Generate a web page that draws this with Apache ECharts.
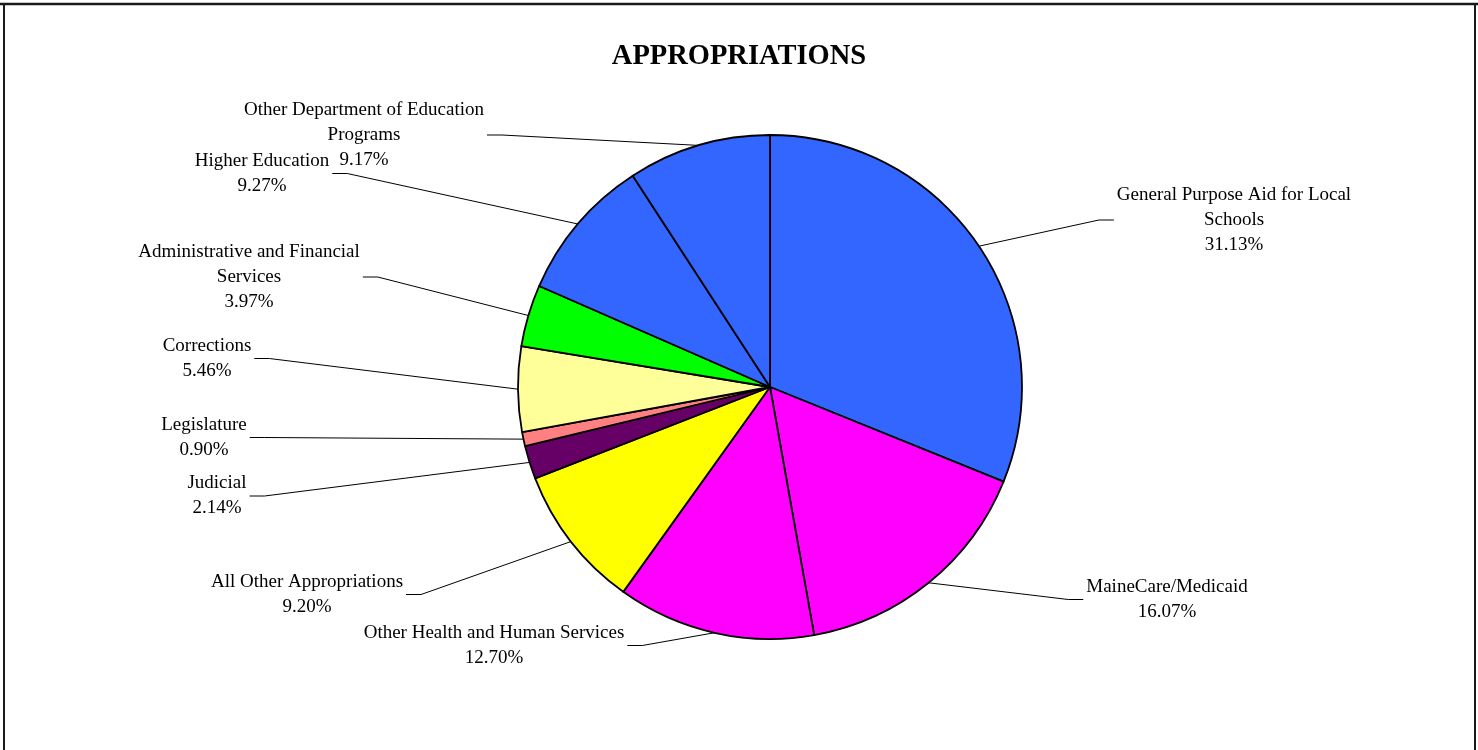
<!DOCTYPE html>
<html>
<head>
<meta charset="utf-8">
<script src="https://cdn.jsdelivr.net/npm/echarts@6/dist/echarts.min.js"></script>
<style>
html,body{margin:0;padding:0;background:#fff;}
#chart{width:1478px;height:750px;}
</style>
</head>
<body>
<div id="chart"></div>
<script>
// ---- data ----
const categories = [
  'General Purpose Aid for Local\nSchools',
  'MaineCare/Medicaid',
  'Other Health and Human Services',
  'All Other Appropriations',
  'Judicial',
  'Legislature',
  'Corrections',
  'Administrative and Financial\nServices',
  'Higher Education',
  'Other Department of Education\nPrograms'
];
const shares = [31.13, 16.07, 12.70, 9.20, 2.14, 0.90, 5.46, 3.97, 9.27, 9.17];
const sliceColors = ['#3366FF', '#FF00FF', '#FF00FF', '#FFFF00', '#660066', '#FF8080', '#FFFF99', '#00FF00', '#3366FF', '#3366FF'];

// ---- label layout (centres of label text blocks) ----
const labelCenters = [
  [1234, 220], [1167, 599.5], [494, 645.5], [307, 594.5], [217, 496],
  [204, 437.5], [207, 358.5], [249, 277], [262, 173.5], [364, 135]
];
const pieCenter = [770, 387];

const chart = echarts.init(document.getElementById('chart'));
chart.setOption({
  animation: false,
  backgroundColor: '#fff',
  title: {
    text: 'APPROPRIATIONS',
    left: 'center',
    top: 37,
    textStyle: { fontFamily: 'Liberation Serif', fontWeight: 'bold', fontSize: 28.5, color: '#000' }
  },
  graphic: [
    { type: 'line', shape: { x1: 0, y1: 4, x2: 1478, y2: 4 }, style: { stroke: '#1a1a1a', lineWidth: 2.5 } },
    { type: 'line', shape: { x1: 4, y1: 4, x2: 4, y2: 760 }, style: { stroke: '#1a1a1a', lineWidth: 2 } },
    { type: 'line', shape: { x1: 1475, y1: 4, x2: 1475, y2: 760 }, style: { stroke: '#1a1a1a', lineWidth: 2 } }
  ],
  series: [{
    type: 'pie',
    center: pieCenter,
    radius: 252,
    startAngle: 90,
    clockwise: true,
    avoidLabelOverlap: false,
    data: categories.map((n, i) => ({ name: n, value: shares[i], itemStyle: { color: sliceColors[i] } })),
    itemStyle: { borderColor: '#000', borderWidth: 1.8 },
    label: {
      show: true,
      position: 'outside',
      fontFamily: 'Liberation Serif',
      fontSize: 19,
      lineHeight: 25,
      color: '#000',
      align: 'center',
      formatter: p => p.name + '\n' + shares[p.dataIndex].toFixed(2) + '%'
    },
    labelLine: { show: true, length: 20, length2: 15, lineStyle: { color: '#000', width: 1 } },
    emphasis: { disabled: true },
    labelLayout: function (params) {
      const i = params.dataIndex;
      const c = labelCenters[i];
      const w = params.labelRect.width;
      const right = c[0] > pieCenter[0];
      const endX = right ? c[0] - w / 2 - 3 : c[0] + w / 2 + 3;
      const bendX = right ? endX - 15 : endX + 15;
      const start = params.labelLinePoints ? params.labelLinePoints[0] : [c[0], c[1]];
      return {
        x: c[0], y: c[1], align: 'center', verticalAlign: 'middle',
        labelLinePoints: [start, [bendX, c[1]], [endX, c[1]]]
      };
    }
  }]
});
</script>
</body>
</html>
